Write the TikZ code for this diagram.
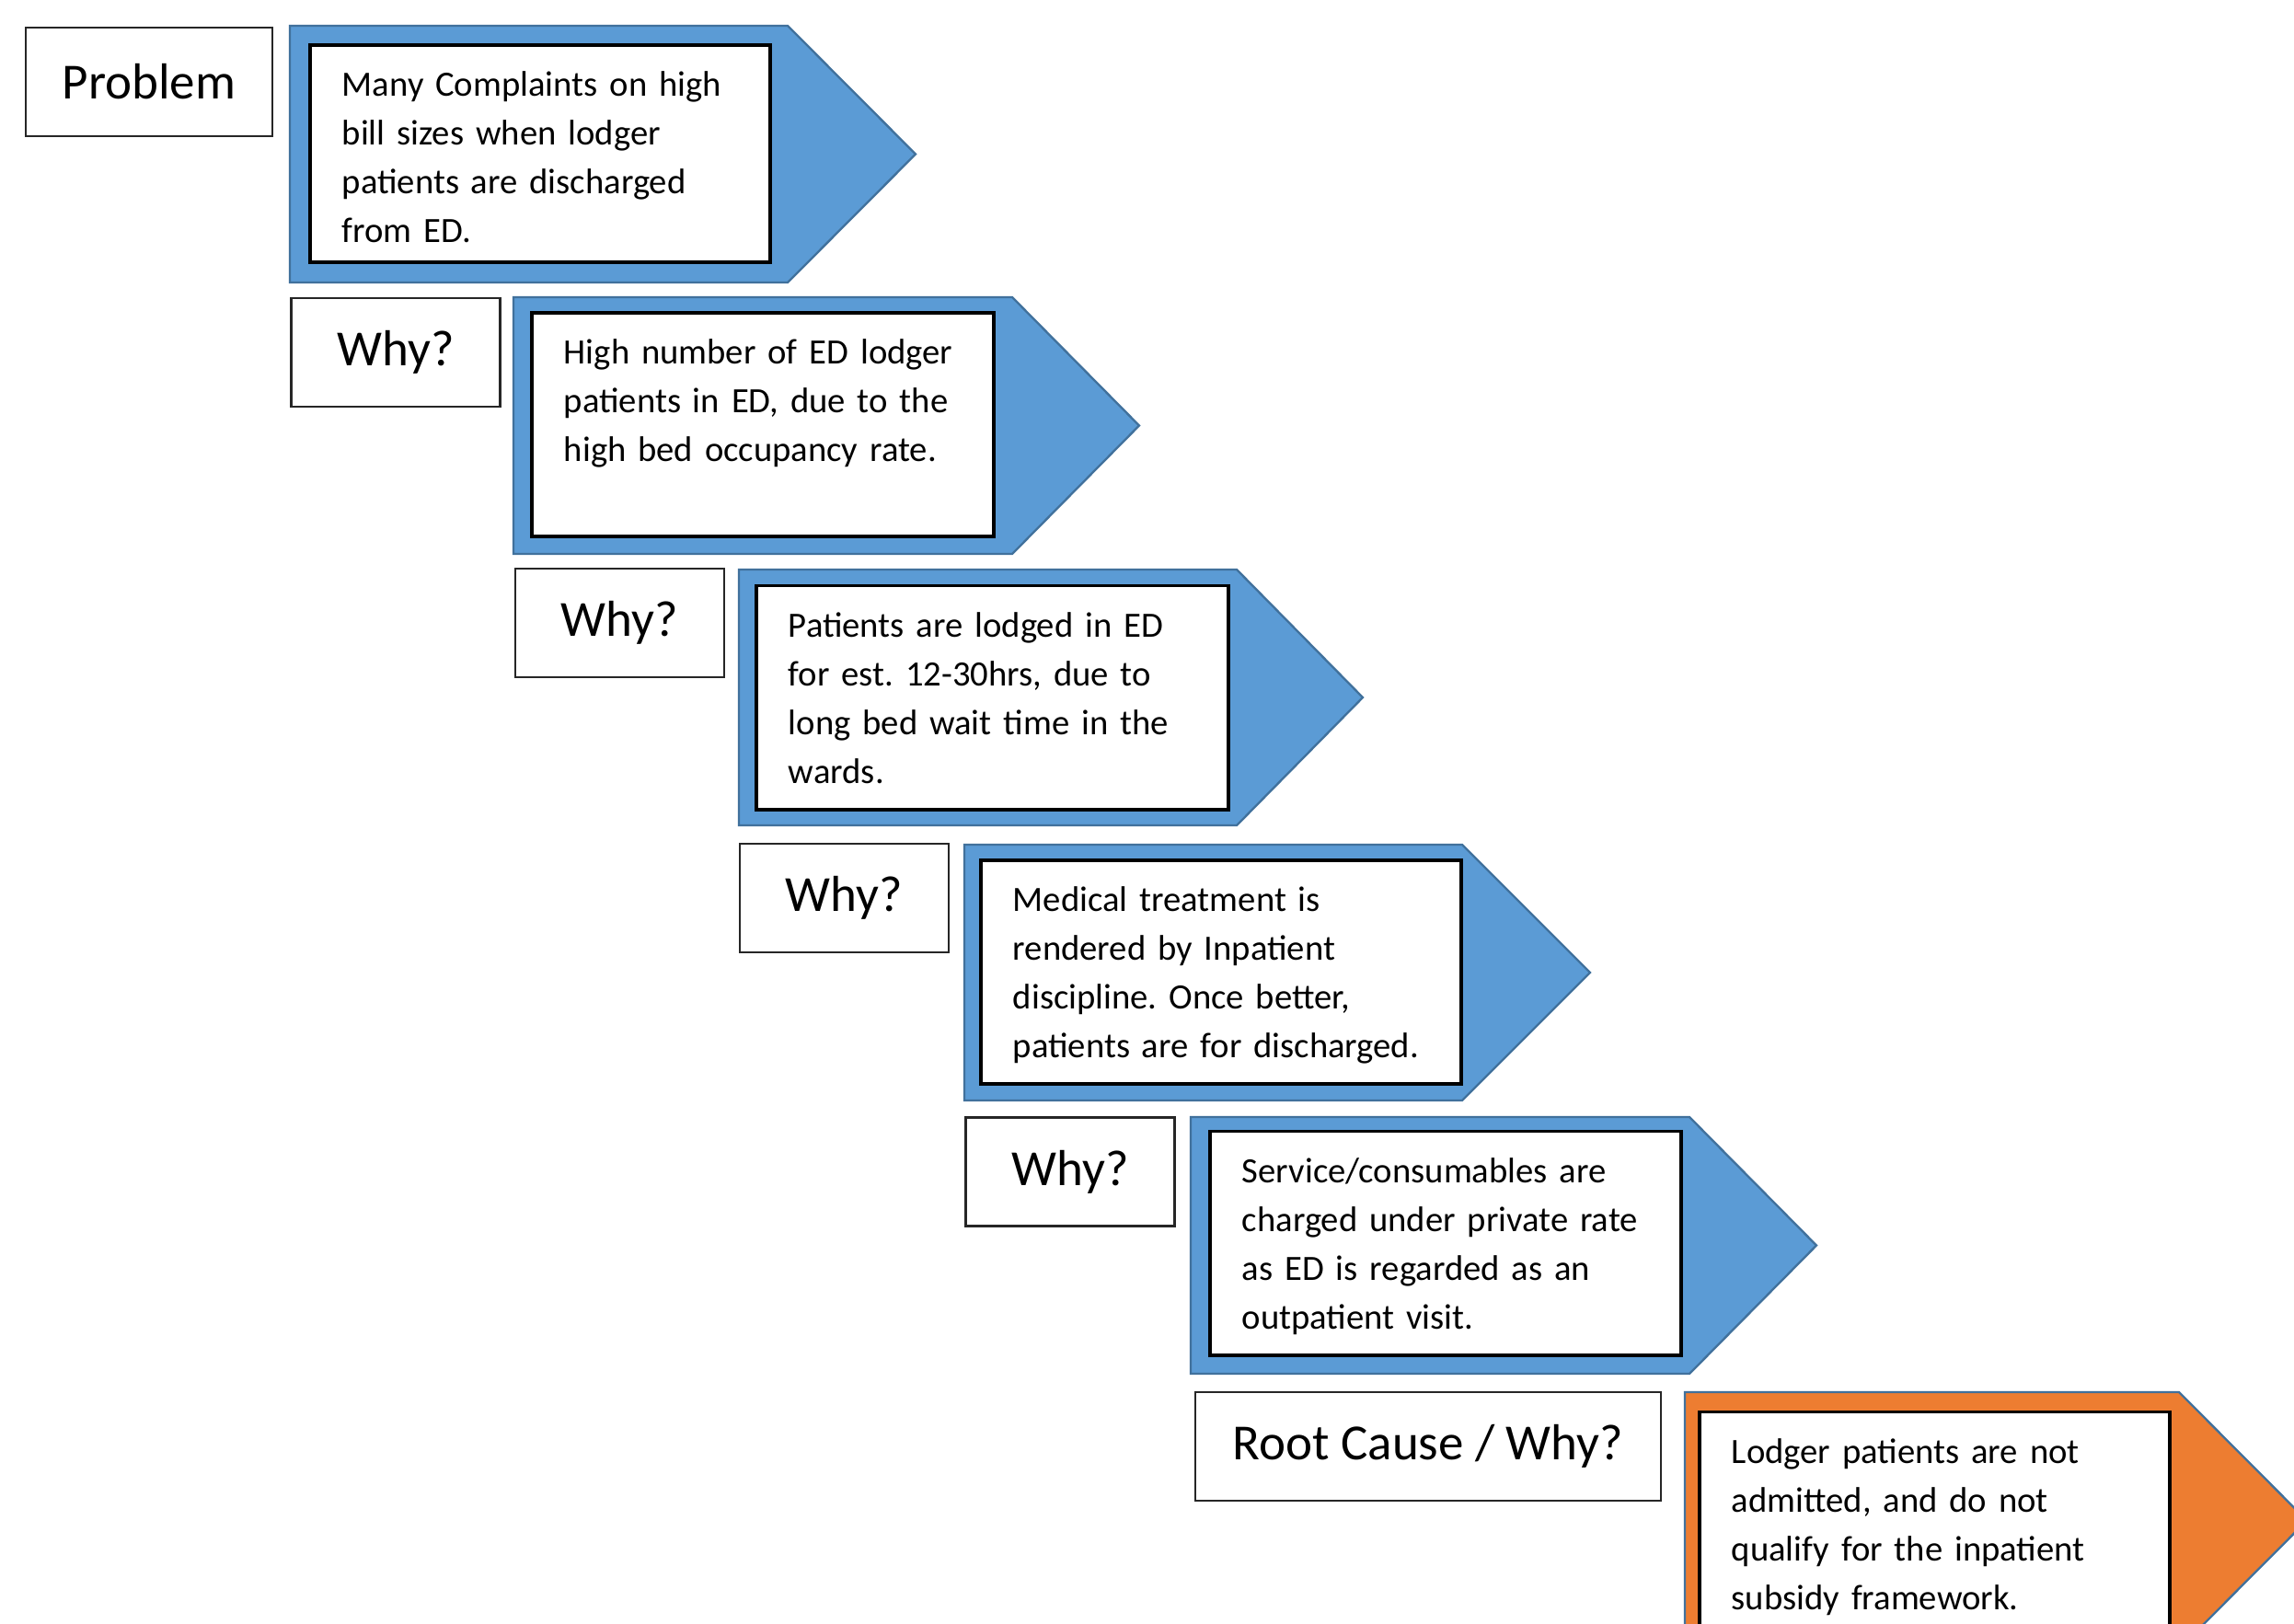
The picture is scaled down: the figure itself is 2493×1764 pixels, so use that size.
\documentclass[tikz,border=0pt]{standalone}
\usepackage{fontspec}
\setmainfont{Carlito}
\frenchspacing
\definecolor{chevblue}{HTML}{5B9BD5}
\definecolor{chevorange}{HTML}{ED7D31}
\definecolor{chevedge}{HTML}{41719C}
\begin{document}
\begin{tikzpicture}[x=0.3pt,y=-0.3pt,
	chev/.style={fill=chevblue,draw=chevedge,line width=0.7pt,line join=miter},
	rootchev/.style={chev,fill=chevorange},
	inbox/.style={draw=black,fill=white,line width=1.1pt,minimum height=73pt,inner sep=0pt},
	intext/.style={anchor=north west,inner sep=0pt,text width=150pt,align=left,text height=8.5pt,font=\fontsize{11.6}{15.9}\selectfont},
	askbox/.style={draw=black!85,line width=0.8pt,minimum height=35.4pt,inner sep=0pt,font=\fontsize{16.5}{19}\selectfont}]
	\useasboundingbox (0,0) rectangle (2493,1764);
	\clip (0,0) rectangle (2493,1764);

	% Problem
	\node[askbox,minimum width=80.4pt] (problem) at (162,89) {Problem};
	\draw[chev] (315,28) -- (856,28) -- (995,167.5) -- (856,307) -- (315,307) -- cycle;
	\node[inbox,minimum width=150.1pt,minimum height=70.9pt] (box0) at (587,167) {};
	\node[intext] (text0) at ([shift={(10.85pt,-8.65pt)}]box0.north west) {Many Complaints on high\\bill sizes when lodger\\patients are discharged\\from ED.};

	% Why 1
	\node[askbox,minimum width=68.1pt] (why1) at (430,383) {Why?};
	\draw[chev] (558,323) -- (1100,323) -- (1238,462.5) -- (1100,602) -- (558,602) -- cycle;
	\node[inbox,minimum width=150.7pt] (box1) at (829,461.5) {};
	\node[intext] (text1) at ([shift={(10.85pt,-8.65pt)}]box1.north west) {High number of ED lodger\\patients in ED, due to the\\high bed occupancy rate.};

	% Why 2
	\node[askbox,minimum width=68.1pt] (why2) at (673.5,677) {Why?};
	\draw[chev] (803,619) -- (1344,619) -- (1481,758) -- (1344,897) -- (803,897) -- cycle;
	\node[inbox,minimum width=154pt] (box2) at (1078.5,758) {};
	\node[intext] (text2) at ([shift={(10.85pt,-8.65pt)}]box2.north west) {Patients are lodged in ED\\for est. 12-30hrs, due to\\long bed wait time in the\\wards.};

	% Why 3
	\node[askbox,minimum width=68.1pt] (why3) at (917.5,976) {Why?};
	\draw[chev] (1048,918) -- (1589,918) -- (1728,1057) -- (1589,1196) -- (1048,1196) -- cycle;
	\node[inbox,minimum width=156.7pt] (box3) at (1327,1056.5) {};
	\node[intext] (text3) at ([shift={(10.85pt,-8.65pt)}]box3.north west) {Medical treatment is\\rendered by Inpatient\\discipline. Once better,\\patients are for discharged.};

	% Why 4
	\node[askbox,minimum width=68.1pt] (why4) at (1163,1273.5) {Why?};
	\draw[chev] (1294,1214) -- (1836,1214) -- (1974,1353.5) -- (1836,1493) -- (1294,1493) -- cycle;
	\node[inbox,minimum width=153.7pt] (box4) at (1571,1351) {};
	\node[intext] (text4) at ([shift={(10.85pt,-8.65pt)}]box4.north west) {Service/consumables are\\charged under private rate\\as ED is regarded as an\\outpatient visit.};

	% Root cause
	\node[askbox,minimum width=151.8pt] (root) at (1552,1572) {Root Cause / Why?};
	\draw[rootchev] (1831,1513) -- (2368,1513) -- (2507,1652.5) -- (2368,1792) -- (1831,1792) -- cycle;
	\node[inbox,minimum width=153.4pt] (box5) at (2102.5,1656) {};
	\node[intext] (text5) at ([shift={(10.85pt,-8.65pt)}]box5.north west) {Lodger patients are not\\admitted, and do not\\qualify for the inpatient\\subsidy framework.};
\end{tikzpicture}
\end{document}
